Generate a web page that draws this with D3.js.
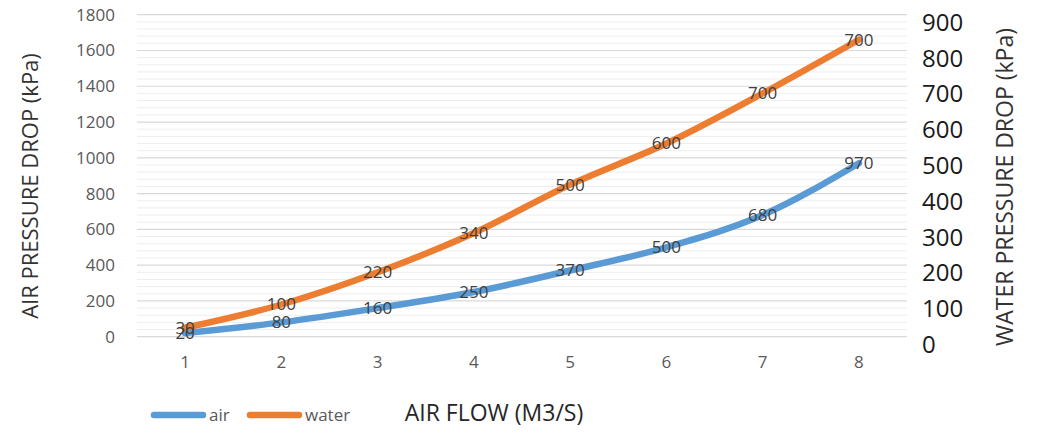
<!DOCTYPE html>
<html>
<head>
<meta charset="utf-8">
<script src="https://cdn.jsdelivr.net/npm/d3@7"></script>
<style>
  body { margin: 0; background: #fff; }
  text { font-family: "Open Sans", sans-serif; }
</style>
</head>
<body>
<svg id="chart" width="1039" height="435"></svg>
<script>
// air flow categories
let flows = [1, 2, 3, 4, 5, 6, 7, 8];
// air pressure drop, left axis
let airValues = [20, 80, 160, 250, 370, 500, 680, 970];
// water pressure drop as drawn, right axis
let waterValues = [25, 90, 180, 290, 425, 540, 680, 830];
// the data labels printed on the water line
let waterLabels = [30, 100, 220, 340, 500, 600, 700, 700];
let leftTicks = [0, 200, 400, 600, 800, 1000, 1200, 1400, 1600, 1800];
let rightTicks = [0, 100, 200, 300, 400, 500, 600, 700, 800, 900];

let svg = d3.select("#chart");

let x = d3.scaleBand().domain(flows).range([137, 907]).padding(0),
    yLeft = d3.scaleLinear().domain([0, 1800]).range([336.7, 14.7]),
    yRight = d3.scaleLinear().domain([0, 900]).range([336.7, 14.7]);

function cx(d) { return x(d) + x.bandwidth() / 2; }

// minor grid, every 40
svg.append("g")
    .selectAll("line")
    .data(d3.range(0, 1800, 40).filter(function(d) { return d % 200 != 0; }))
    .enter().append("line")
    .attr("x1", 137).attr("x2", 907)
    .attr("y1", function(d) { return yLeft(d); })
    .attr("y2", function(d) { return yLeft(d); })
    .attr("stroke", "#eeeeee")
    .attr("stroke-width", 1);

// major grid
svg.append("g")
    .selectAll("line")
    .data(leftTicks)
    .enter().append("line")
    .attr("x1", 137).attr("x2", 907)
    .attr("y1", function(d) { return yLeft(d); })
    .attr("y2", function(d) { return yLeft(d); })
    .attr("stroke", "#d9d9d9")
    .attr("stroke-width", 1.2);

// left axis
let gl = svg.append("g")
    .attr("transform", "translate(118,0)")
    .call(d3.axisLeft(yLeft).tickValues(leftTicks).tickFormat(d3.format("d")).tickSize(0).tickPadding(3));
gl.select(".domain").remove();
gl.selectAll("text")
    .attr("font-family", "Open Sans")
    .attr("font-size", "17px")
    .attr("fill", "#595959");

// right axis
let gr = svg.append("g")
    .attr("transform", "translate(918,8)")
    .call(d3.axisRight(yRight).tickValues(rightTicks).tickSize(0).tickPadding(4));
gr.select(".domain").remove();
gr.selectAll("text")
    .attr("font-family", "Open Sans")
    .attr("font-size", "24px")
    .attr("fill", "#1a1a1a");

// bottom axis
let gb = svg.append("g")
    .attr("transform", "translate(0,352)")
    .call(d3.axisBottom(x).tickSize(0).tickPadding(4));
gb.select(".domain").remove();
gb.selectAll("text")
    .attr("font-family", "Open Sans")
    .attr("font-size", "17px")
    .attr("fill", "#595959");

// axis titles
svg.append("text")
    .attr("transform", "translate(38,186) rotate(-90)")
    .attr("text-anchor", "middle")
    .attr("font-size", "22px")
    .attr("fill", "#333333")
    .text("AIR PRESSURE DROP (kPa)");

svg.append("text")
    .attr("transform", "translate(1013,187) rotate(-90)")
    .attr("text-anchor", "middle")
    .attr("font-size", "23px")
    .attr("fill", "#333333")
    .text("WATER PRESSURE DROP (kPa)");

svg.append("text")
    .attr("x", 494)
    .attr("y", 421)
    .attr("text-anchor", "middle")
    .attr("font-size", "23px")
    .attr("fill", "#262626")
    .text("AIR FLOW (M3/S)");

// lines
let airLine = d3.line()
    .x(function(d, i) { return cx(flows[i]); })
    .y(function(d) { return yLeft(d); })
    .curve(d3.curveMonotoneX);

let waterLine = d3.line()
    .x(function(d, i) { return cx(flows[i]); })
    .y(function(d) { return yRight(d); })
    .curve(d3.curveMonotoneX);

svg.append("path")
    .datum(airValues)
    .attr("d", airLine)
    .attr("fill", "none")
    .attr("stroke", "#5b9bd5")
    .attr("stroke-width", 6.5)
    .attr("stroke-linecap", "round");

svg.append("path")
    .datum(waterValues)
    .attr("d", waterLine)
    .attr("fill", "none")
    .attr("stroke", "#ed7d31")
    .attr("stroke-width", 6.5)
    .attr("stroke-linecap", "round");

// data labels
svg.append("g")
    .selectAll("text")
    .data(airValues)
    .enter().append("text")
    .attr("x", function(d, i) { return cx(flows[i]); })
    .attr("y", function(d) { return yLeft(d); })
    .attr("dy", "0.35em")
    .attr("text-anchor", "middle")
    .attr("font-size", "17px")
    .attr("fill", "#404040")
    .text(function(d) { return d; });

svg.append("g")
    .selectAll("text")
    .data(waterValues)
    .enter().append("text")
    .attr("x", function(d, i) { return cx(flows[i]); })
    .attr("y", function(d) { return yRight(d); })
    .attr("dy", "0.35em")
    .attr("text-anchor", "middle")
    .attr("font-size", "17px")
    .attr("fill", "#404040")
    .text(function(d, i) { return waterLabels[i]; });

// legend
let legend = [
    { name: "air", color: "#5b9bd5", x: 154 },
    { name: "water", color: "#ed7d31", x: 250 }
];
let lg = svg.append("g").selectAll("g")
    .data(legend)
    .enter().append("g")
    .attr("transform", function(d) { return "translate(" + d.x + ",415)"; });
lg.append("line")
    .attr("x1", 0).attr("x2", 49)
    .attr("stroke", function(d) { return d.color; })
    .attr("stroke-width", 6.5)
    .attr("stroke-linecap", "round");
lg.append("text")
    .attr("x", 55)
    .attr("dy", "0.35em")
    .attr("font-size", "17px")
    .attr("fill", "#595959")
    .text(function(d) { return d.name; });
</script>
</body>
</html>
